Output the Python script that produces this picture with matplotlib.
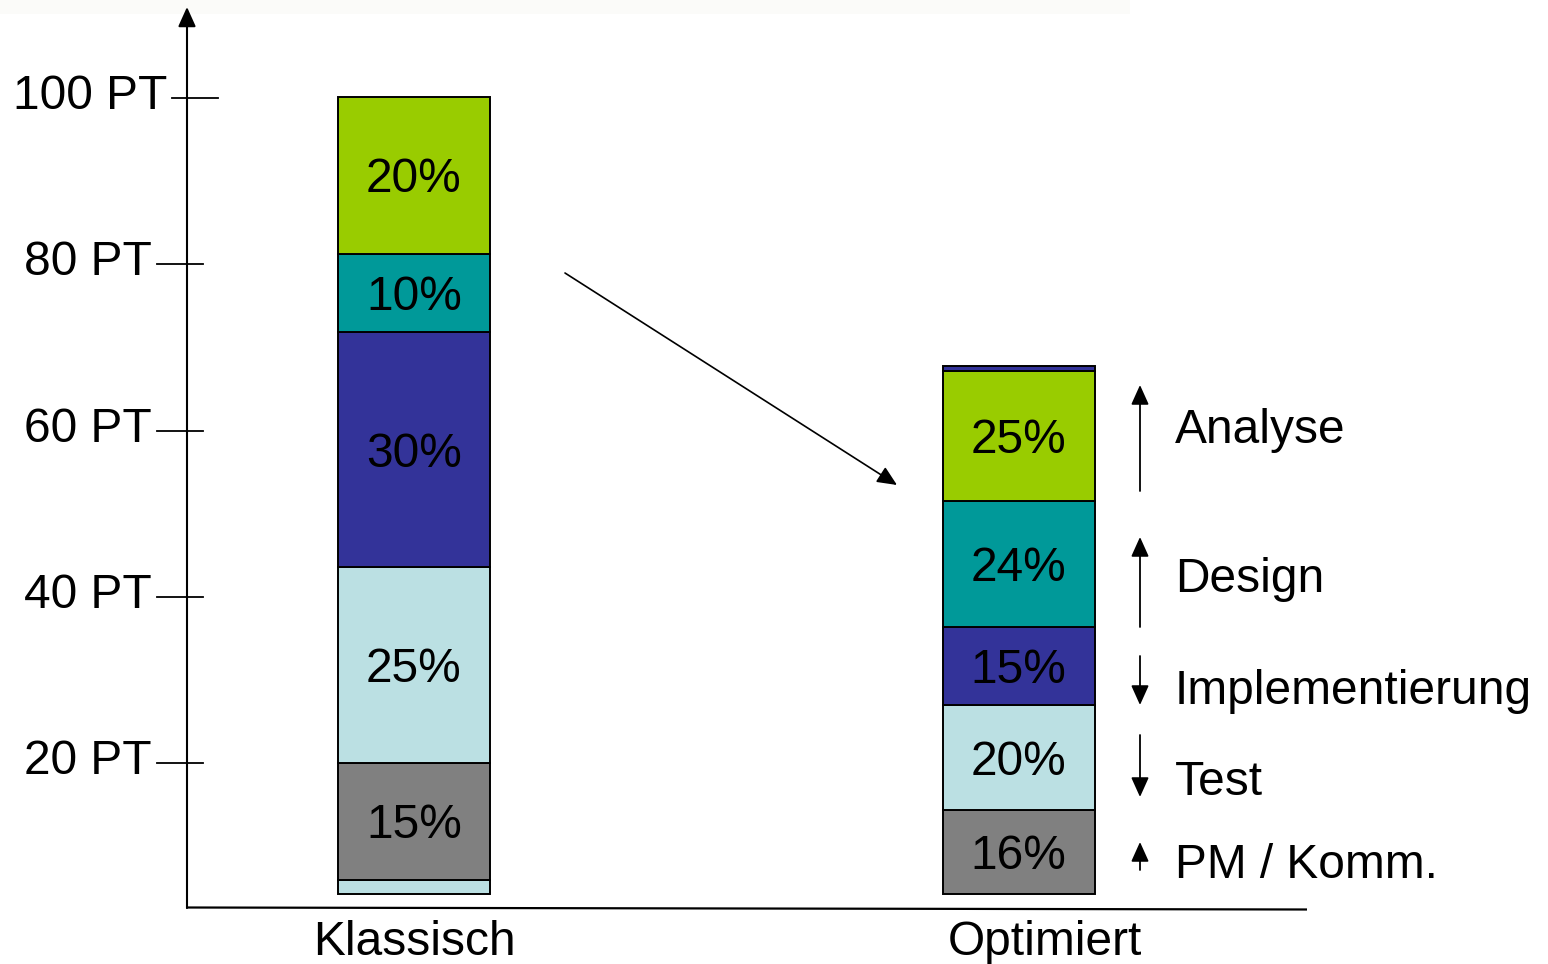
import matplotlib
matplotlib.use("Agg")
import matplotlib.pyplot as plt
from matplotlib.patches import Rectangle

plt.rcParams['font.family'] = ['Liberation Sans', 'DejaVu Sans']

# ---- data -------------------------------------------------------------
categories = ["Klassisch", "Optimiert"]
phases = ["PM / Komm.", "Test", "Implementierung", "Design", "Analyse"]
share_klassisch = [15, 25, 30, 10, 20]   # % of phase effort
share_optimiert = [16, 20, 15, 24, 25]
effort_phases = [94.2, 62.9]             # PT covered by the five phases
rest_klassisch = 1.6                     # PT remainder below PM / Komm.
rest_optimiert = 0.6                     # PT remainder above Analyse
trend = [1, -1, -1, 1, 1]                # share up (+1) or down (-1)
y_ticks = [20, 40, 60, 80, 100]
tick_labels = ["20 PT", "40 PT", "60 PT", "80 PT", "100 PT"]

phase_colors = ["#808080", "#BBE0E3", "#333399", "#009999", "#99CC00"]

# ---- canvas: pixel helpers -------------------------------------------
W, H = 1548, 964
X0, XSTEP = 414.0, 604.5          # bar centre of first category, spacing
Y0, YSCALE = 929.25, 8.3125       # pixel row of 0 PT, pixels per PT


def X(px):
    return (px - X0) / XSTEP


def Y(py):
    return (Y0 - py) / YSCALE


FS = 34.5
fig = plt.figure(figsize=(W / 100, H / 100), dpi=100)
ax = fig.add_axes([0, 0, 1, 1])
ax.set_xlim(X(0), X(W))
ax.set_ylim(Y(H), Y(0))
ax.axis('off')

# faint band along the top edge
ax.add_patch(Rectangle((X(0), Y(14)), X(1130) - X(0), Y(0) - Y(14),
                       facecolor='#fbfbf9', edgecolor='none', zorder=0))

# ---- axes lines ------------------------------------------------------
arrow_kw = dict(arrowstyle='-|>,head_length=0.4,head_width=0.18',
                mutation_scale=30, color='black', shrinkA=0, shrinkB=0)
ax.annotate('', xy=(X(187), Y(7)), xytext=(X(187), Y(908)),
            arrowprops=dict(lw=1.5, **arrow_kw))
ax.plot([X(186), X(1307)], [Y(907.5), Y(909.5)], color='black', lw=1.6,
        solid_capstyle='butt')

for v, lab in zip(y_ticks, tick_labels):
    shift = 15 if v == max(y_ticks) else 0
    ax.plot([X(157 + shift), X(203 + shift)], [v, v], color='black', lw=1.3)
    ax.text(X(152 + shift), v - 11 / YSCALE, lab, ha='right', va='baseline',
            fontsize=FS)

# ---- stacked bars ----------------------------------------------------
bar_w = 152 / XSTEP
base = Y(893.5)
edge = dict(edgecolor='black', linewidth=1.4)

stacks = [share_klassisch, share_optimiert]
for i, shares in enumerate(stacks):
    bottom = base
    if i == 0:
        ax.bar(i, rest_klassisch, bottom=bottom, width=bar_w,
               color=phase_colors[1], **edge)
        bottom += rest_klassisch
    for pct, col in zip(shares, phase_colors):
        h = effort_phases[i] * pct / 100
        ax.bar(i, h, bottom=bottom, width=bar_w, color=col, **edge)
        ax.text(i, bottom + h / 2 - 17 / YSCALE, f"{pct}%", ha='center',
                va='baseline', fontsize=FS, color='black')
        bottom += h
    if i == 1:
        ax.bar(i, rest_optimiert, bottom=bottom, width=bar_w,
               color=phase_colors[2], **edge)

# category labels
ax.text(X(414), Y(955), categories[0], ha='center', va='baseline', fontsize=FS)
ax.text(X(1045), Y(955), categories[1], ha='center', va='baseline', fontsize=FS)

# shift arrow between the two bars
ax.annotate('', xy=(X(897), Y(485)), xytext=(X(565), Y(273)),
            arrowprops=dict(lw=1.2, **arrow_kw))

# ---- phase legend with trend arrows ---------------------------------
arrow_rows = [(842, 870), (735, 797), (656, 705), (537, 627), (385, 491)]
label_baselines = [878, 795, 704, 592, 443]
for name, tr, (top, bot), bl in zip(phases, trend, arrow_rows, label_baselines):
    tip, tail = (top, bot) if tr > 0 else (bot, top)
    ax.annotate('', xy=(X(1140), Y(tip)), xytext=(X(1140), Y(tail)),
                arrowprops=dict(lw=1.3, **arrow_kw))
    ax.text(X(1175), Y(bl), name, ha='left', va='baseline', fontsize=FS)

fig.savefig("out.png", dpi=100)
